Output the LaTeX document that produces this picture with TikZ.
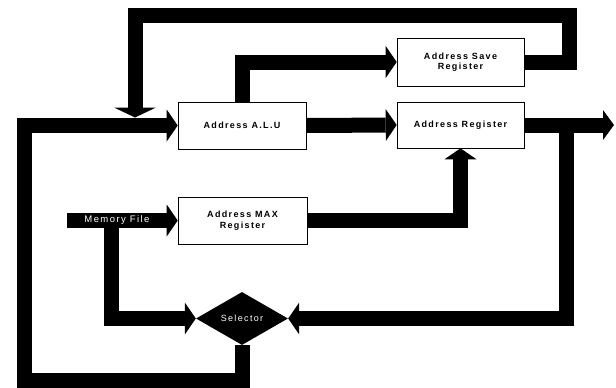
\documentclass[tikz,border=0pt]{standalone}
\usepackage{fontspec}
\setmainfont{Liberation Sans}
\newfontfamily\boxfont[LetterSpace=15]{Liberation Sans}
\usetikzlibrary{arrows.meta,shapes.geometric}
\tikzset{
  box/.style={draw, line width=0.6pt, fill=white, minimum width=128pt, minimum height=47pt,
    inner sep=0pt, align=center, font=\boxfont\bfseries\fontsize{9}{10.5}\selectfont},
  busline/.style={line width=15pt, line join=miter},
  bus/.style={busline, -{Triangle[length=11pt,width=32pt,line width=0pt]}},
  bigbus/.style={busline, -{Triangle[length=10pt,width=42pt,line width=0pt]}},
  whitelabel/.style={text=white, font=\boxfont\fontsize{9}{10}\selectfont, inner sep=0pt}
}
\begin{document}
\begin{tikzpicture}[x=1pt,y=-1pt]
\useasboundingbox (0,0) rectangle (616,388);
\node[box] (alu) at (242,125.5) {Address A.L.U};
\node[box, minimum width=127pt, minimum height=48pt] (save) at (460.5,62) {Address Save\\Register};
\node[box, minimum width=127pt, minimum height=46pt] (areg) at (460.5,125) {Address Register};
\node[box, minimum width=129pt, minimum height=47pt, font=\boxfont\bfseries\fontsize{9}{11}\selectfont] (max) at (242.5,220.5) {Address MAX\\Register};
\node[diamond, fill=black, minimum width=92pt, minimum height=53pt, aspect=1.74, whitelabel] (sel) at (242,318.5) {Selector};
\node[fill=black, minimum width=100pt, minimum height=15pt, whitelabel, font=\boxfont\fontsize{9.5}{10}\selectfont] (mem) at (117,220.5) {Memory File};
\coordinate (tj) at (135,117.5);
\coordinate (tap) at (566,125);
\coordinate (out) at (614,125);
\coordinate (mb) at (111,220.5);
% feedback from save register to ALU input
\draw[bigbus] (save.east) -| (569,15) -| (tj);
% selector output loop to ALU
\draw[bus] (sel.south) |- (24,380) |- (alu.west);
% ALU to save register
\draw[bus] (alu.north) |- (save.west);
% ALU to address register
\draw[bus] (alu.east) -- (areg.west);
% output
\draw[bus, -{Triangle[length=11pt,width=30pt,line width=0pt]}] (areg.east) -- (out);
% output tap to selector
\draw[bus] (tap) |- (sel.east);
% MAX register to address register
\draw[bus] (max.east) -| (areg.south);
% memory file
\draw[bus] (mem.east) -- (max.west);
\draw[bus] (mem.south -| mb) |- (sel.west);
\end{tikzpicture}
\end{document}
